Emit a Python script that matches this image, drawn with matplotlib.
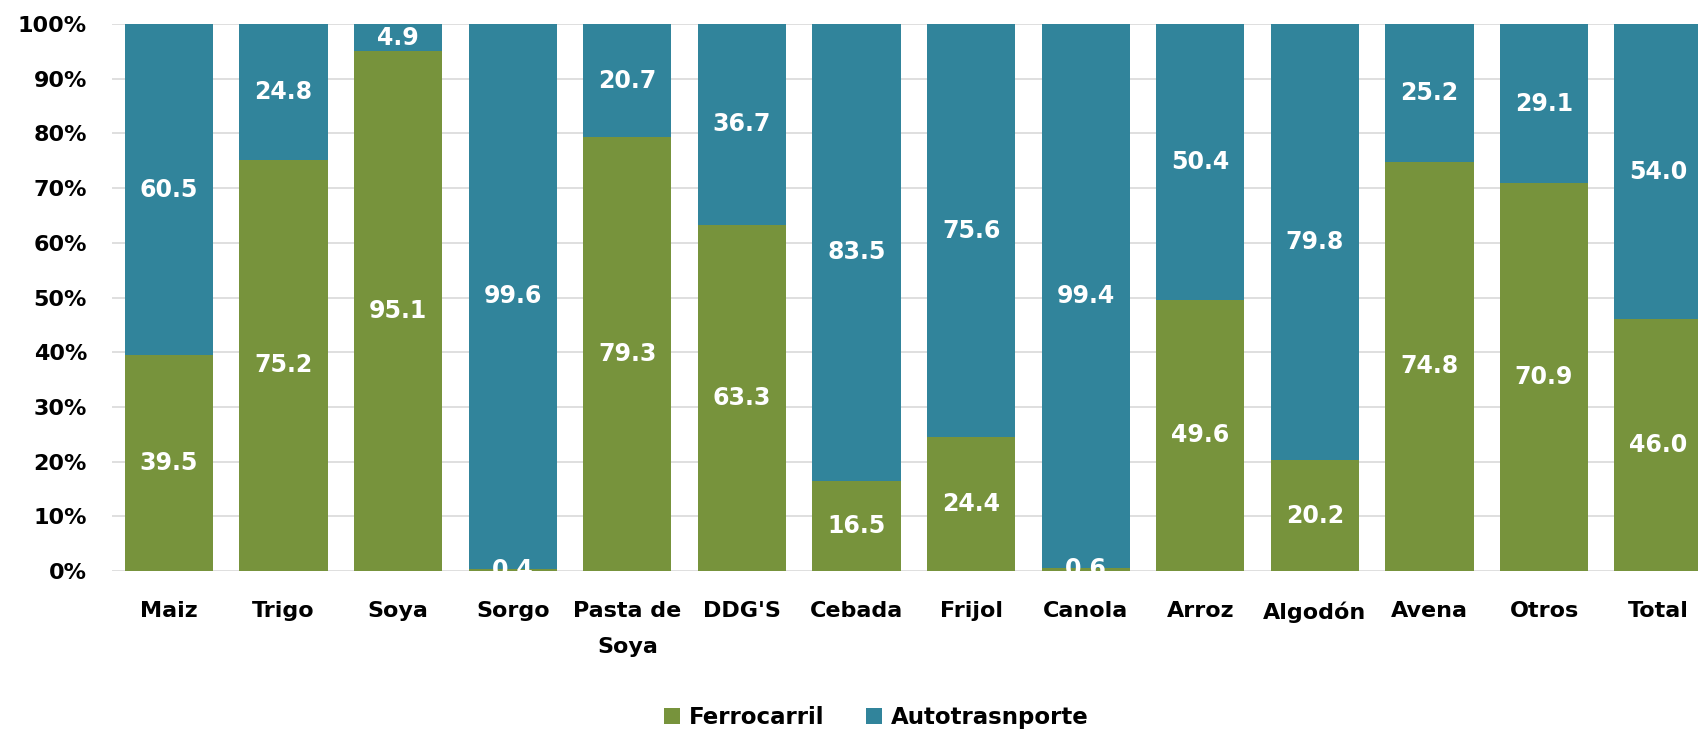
import numpy as np
import matplotlib
matplotlib.use("Agg")
import matplotlib.pyplot as plt

# Participacion modal por producto (%)
productos = ["Maiz", "Trigo", "Soya", "Sorgo", "Pasta de\nSoya", "DDG'S", "Cebada",
             "Frijol", "Canola", "Arroz", "Algodón", "Avena", "Otros", "Total"]
ferrocarril = [39.5, 75.2, 95.1, 0.4, 79.3, 63.3, 16.5, 24.4, 0.6, 49.6, 20.2, 74.8, 70.9, 46.0]
autotransporte = [60.5, 24.8, 4.9, 99.6, 20.7, 36.7, 83.5, 75.6, 99.4, 50.4, 79.8, 25.2, 29.1, 54.0]

verde = "#77933C"
azul = "#31849B"

fig = plt.figure(figsize=(16.98, 7.31), dpi=100)
ax = fig.add_axes([0.066, 0.219, 0.934, 0.748])

x = np.arange(len(productos))
w = 0.77
b1 = ax.bar(x, ferrocarril, w, color=verde, label="Ferrocarril", zorder=2)
b2 = ax.bar(x, autotransporte, w, bottom=ferrocarril, color=azul, label="Autotrasnporte", zorder=2)

for i in range(len(x)):
    ax.text(x[i], ferrocarril[i] / 2, f"{ferrocarril[i]:.1f}", ha="center", va="center",
            color="white", fontsize=17, fontweight="bold", clip_on=True, zorder=3)
    ax.text(x[i], ferrocarril[i] + autotransporte[i] / 2, f"{autotransporte[i]:.1f}",
            ha="center", va="center", color="white", fontsize=17, fontweight="bold",
            clip_on=True, zorder=3)

ax.set_ylim(0, 100)
ax.set_xlim(-0.497, 13.344)
ax.set_yticks(np.arange(0, 101, 10))
ax.set_yticklabels([f"{v}%" for v in range(0, 101, 10)], fontsize=16, fontweight="bold")
ax.set_xticks(x)
ax.set_xticklabels(productos, fontsize=16, fontweight="bold", linespacing=1.95)
ax.tick_params(length=0)
ax.tick_params(axis="y", pad=18)
ax.tick_params(axis="x", pad=22)
ax.yaxis.grid(True, color="#D9D9D9", linewidth=1.2, zorder=0)
ax.set_axisbelow(True)
for s in ax.spines.values():
    s.set_visible(False)

fig.legend(handles=[b1, b2], loc="center", bbox_to_anchor=(0.516, 0.018), ncol=2,
           frameon=False, prop={"size": 16.5, "weight": "bold"}, handlelength=0.7,
           handleheight=0.7, handletextpad=0.4, columnspacing=1.8)

fig.savefig("out.png", dpi=100)
